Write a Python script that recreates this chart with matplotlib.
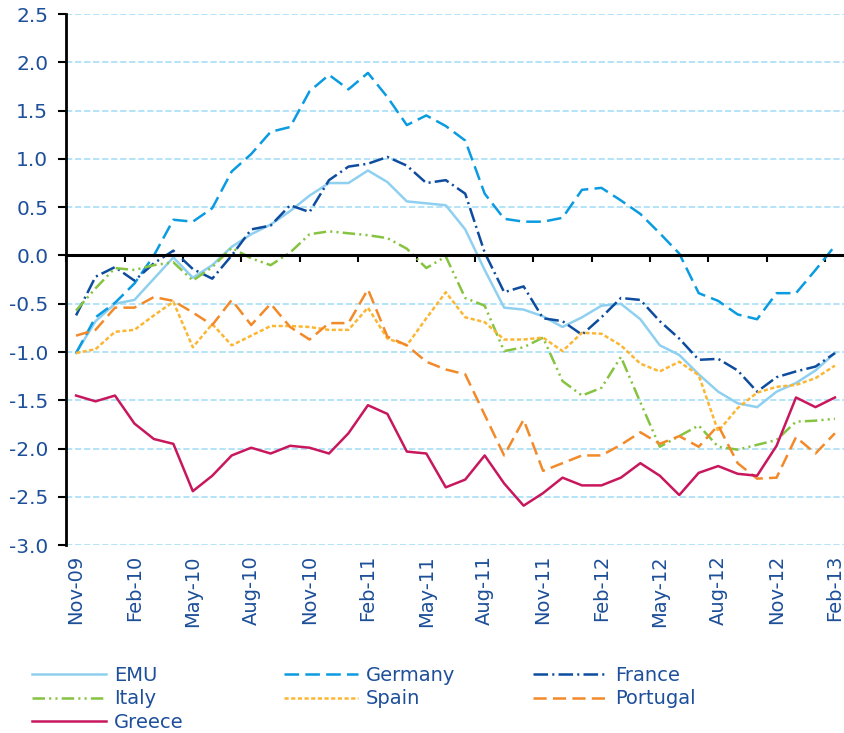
import numpy as np
import matplotlib
matplotlib.use("Agg")
import matplotlib.pyplot as plt

# monthly, Nov-09 .. Feb-13
months = ["Nov-09", "Dec-09", "Jan-10", "Feb-10", "Mar-10", "Apr-10", "May-10", "Jun-10",
          "Jul-10", "Aug-10", "Sep-10", "Oct-10", "Nov-10", "Dec-10", "Jan-11", "Feb-11",
          "Mar-11", "Apr-11", "May-11", "Jun-11", "Jul-11", "Aug-11", "Sep-11", "Oct-11",
          "Nov-11", "Dec-11", "Jan-12", "Feb-12", "Mar-12", "Apr-12", "May-12", "Jun-12",
          "Jul-12", "Aug-12", "Sep-12", "Oct-12", "Nov-12", "Dec-12", "Jan-13", "Feb-13"]
tick_labels = months[::3]

emu = [-1.01, -0.68, -0.50, -0.46, -0.24, -0.02, -0.23, -0.10, 0.09, 0.22,
       0.32, 0.46, 0.62, 0.75, 0.75, 0.88, 0.76, 0.56, 0.54, 0.52,
       0.27, -0.15, -0.54, -0.56, -0.63, -0.74, -0.64, -0.52, -0.50, -0.66,
       -0.93, -1.03, -1.23, -1.41, -1.53, -1.57, -1.41, -1.32, -1.19, -1.01]
germany = [-1.01, -0.64, -0.49, -0.29, 0.00, 0.37, 0.35, 0.49, 0.87, 1.05,
           1.28, 1.33, 1.70, 1.87, 1.72, 1.89, 1.64, 1.35, 1.45, 1.34,
           1.19, 0.64, 0.38, 0.35, 0.35, 0.39, 0.68, 0.70, 0.57, 0.43,
           0.23, 0.02, -0.39, -0.47, -0.61, -0.66, -0.39, -0.39, -0.15, 0.10]
france = [-0.62, -0.22, -0.12, -0.26, -0.08, 0.05, -0.14, -0.24, 0.00, 0.27,
          0.31, 0.52, 0.45, 0.78, 0.92, 0.95, 1.02, 0.93, 0.75, 0.78,
          0.64, 0.03, -0.38, -0.32, -0.65, -0.68, -0.82, -0.64, -0.44, -0.46,
          -0.68, -0.86, -1.08, -1.07, -1.19, -1.41, -1.26, -1.20, -1.15, -1.01]
italy = [-0.57, -0.34, -0.13, -0.15, -0.10, -0.07, -0.26, -0.12, 0.08, -0.03,
         -0.10, 0.03, 0.22, 0.25, 0.23, 0.21, 0.18, 0.07, -0.13, -0.01,
         -0.44, -0.52, -0.99, -0.95, -0.85, -1.30, -1.45, -1.37, -1.05, -1.52,
         -1.98, -1.87, -1.76, -1.98, -2.01, -1.96, -1.91, -1.72, -1.71, -1.69]
spain = [-1.01, -0.97, -0.79, -0.77, -0.62, -0.48, -0.95, -0.71, -0.93, -0.83,
         -0.73, -0.73, -0.74, -0.77, -0.77, -0.54, -0.86, -0.93, -0.65, -0.38,
         -0.64, -0.69, -0.87, -0.87, -0.85, -0.99, -0.80, -0.81, -0.93, -1.12,
         -1.20, -1.10, -1.24, -1.82, -1.58, -1.42, -1.36, -1.34, -1.27, -1.14]
portugal = [-0.83, -0.77, -0.54, -0.54, -0.43, -0.47, -0.59, -0.72, -0.46, -0.72,
            -0.50, -0.74, -0.87, -0.70, -0.70, -0.35, -0.84, -0.93, -1.10, -1.18,
            -1.23, -1.65, -2.07, -1.70, -2.23, -2.15, -2.07, -2.07, -1.96, -1.83,
            -1.95, -1.87, -1.98, -1.76, -2.15, -2.31, -2.30, -1.88, -2.05, -1.84]
greece = [-1.45, -1.51, -1.45, -1.74, -1.90, -1.95, -2.44, -2.28, -2.07, -1.99,
          -2.05, -1.97, -1.99, -2.05, -1.84, -1.55, -1.64, -2.03, -2.05, -2.40,
          -2.32, -2.07, -2.36, -2.59, -2.46, -2.30, -2.38, -2.38, -2.30, -2.15,
          -2.28, -2.48, -2.25, -2.18, -2.26, -2.28, -1.97, -1.47, -1.57, -1.47]

yticks = [-3.0, -2.5, -2.0, -1.5, -1.0, -0.5, 0.0, 0.5, 1.0, 1.5, 2.0, 2.5]

plt.rcParams["font.family"] = ["DejaVu Sans"]
plt.rcParams["lines.scale_dashes"] = False

TXT = "#1d4f9a"

# name, values, colour, dash pattern (None = solid)
series = [
    ("EMU", emu, "#8fd0f0", None),
    ("Germany", germany, "#0a9be0", (10.5, 4.5)),
    ("France", france, "#0d4c9e", (10.5, 3, 1.5, 3)),
    ("Italy", italy, "#86c341", (9, 3, 1.5, 3, 1.5, 3)),
    ("Spain", spain, "#fbb733", (3, 1.8)),
    ("Portugal", portugal, "#f28a2a", (9.5, 4.5)),
    ("Greece", greece, "#c8175d", None),
]

fig = plt.figure(figsize=(8.45, 7.33), dpi=100)
ax = fig.add_axes([0.0785, 0.2561, 0.9211, 0.7248])
x = np.arange(len(months))

handles = {}
for name, vals, col, dash in series:
    if dash is None:
        (ln,) = ax.plot(x, vals, color=col, lw=1.8, label=name)
    else:
        (ln,) = ax.plot(x, vals, color=col, lw=1.8, dashes=dash, label=name)
    handles[name] = ln

ax.set_xlim(-0.5, len(months) - 0.5)
ax.set_ylim(-3, 2.5)
ax.set_yticks(yticks)
ax.set_yticklabels([f"{v:.1f}" for v in yticks])
ax.tick_params(axis="y", length=6, width=1.5, color="black",
               labelcolor=TXT, labelsize=14.5, pad=7)
ax.yaxis.grid(True, color="#b3e3f7", lw=1.4, ls=(0, (4.5, 2)))
ax.set_axisbelow(True)

for s in ["top", "right"]:
    ax.spines[s].set_visible(False)
ax.spines["left"].set_linewidth(2)
ax.spines["bottom"].set_position(("data", 0))
ax.spines["bottom"].set_linewidth(2.2)

# tick marks on the zero line between categories, labels at the bottom
ax.set_xticks(x[::3])
ax.set_xticks(np.arange(-0.5, len(months) - 1, 3), minor=True)
ax.tick_params(axis="x", which="major", length=0, labelbottom=False)
ax.tick_params(axis="x", which="minor", length=5, width=1.5, direction="out")

sec = ax.secondary_xaxis("bottom")
sec.set_xticks(x[::3], labels=tick_labels)
sec.tick_params(length=0, pad=7, labelsize=14, labelcolor=TXT, labelrotation=90)
sec.spines["bottom"].set_visible(False)

# legend: three columns of equal width, like the original
cols = [["EMU", "Italy", "Greece"], ["Germany", "Spain"], ["France", "Portugal"]]
col_x = [32, 284, 533]
for names, xp in zip(cols, col_x):
    leg = fig.legend([handles[n] for n in names], names, loc="upper left",
                     bbox_to_anchor=(xp / 845, 1 - 666 / 733), frameon=False,
                     fontsize=14, labelcolor=TXT, handlelength=3.8,
                     handletextpad=0.4, borderpad=0, borderaxespad=0,
                     labelspacing=0.23)

fig.savefig("out.png", dpi=100)
